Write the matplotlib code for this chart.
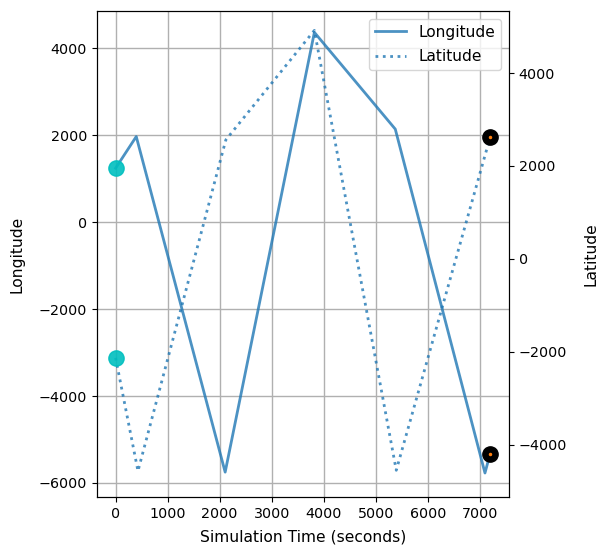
import matplotlib
matplotlib.use("Agg")
import matplotlib.pyplot as plt

# Data
lon_time = [0, 397, 2106, 3821, 5376, 7100, 7200]
lon_vals = [1244, 1972, -5750, 4369, 2143, -5770, -5323]
lat_time = [0, 430, 2119, 3821, 5395, 7200]
lat_vals = [-2132, -4569, 2561, 4918, -4553, 2620]

fig = plt.figure(figsize=(5.98, 5.48), dpi=100)
ax1 = fig.add_axes([0.162, 0.093, 0.689, 0.887])
ax2 = ax1.twinx()

l1, = ax1.plot(lon_time, lon_vals, color='C0', alpha=0.8, linewidth=2, label='Longitude')
l2, = ax2.plot(lat_time, lat_vals, color='C0', alpha=0.8, linewidth=2, linestyle=':', label='Latitude')

ax1.plot(lon_time[0], lon_vals[0], 'o', color='c', markersize=11, alpha=0.9)
ax2.plot(lat_time[0], lat_vals[0], 'o', color='c', markersize=11, alpha=0.9)
ax1.plot(lon_time[-1], lon_vals[-1], 'o', color='k', markersize=11)
ax2.plot(lat_time[-1], lat_vals[-1], 'o', color='k', markersize=11)
ax1.plot(lon_time[-1], lon_vals[-1], '.', color='C1', markersize=3)
ax2.plot(lat_time[-1], lat_vals[-1], '.', color='C1', markersize=3)

ax1.set_xlim(-360, 7560)
ax1.set_ylim(-6323, 4862)
ax2.set_ylim(-5129, 5336)
ax1.set_xticks([0, 1000, 2000, 3000, 4000, 5000, 6000, 7000])
ax1.set_yticks([-6000, -4000, -2000, 0, 2000, 4000])
ax2.set_yticks([-4000, -2000, 0, 2000, 4000])
ax1.tick_params(labelsize=10.3)
ax2.tick_params(labelsize=10.3)
ax1.grid(True, color='#b0b0b0', linewidth=1)

ax1.set_xlabel('Simulation Time (seconds)', fontsize=11.2, labelpad=6)
ax1.set_ylabel('Longitude', fontsize=11.2, labelpad=10)
ax2.set_ylabel('Latitude', fontsize=11.2, labelpad=12)

ax2.legend([l1, l2], ['Longitude', 'Latitude'], loc='upper right', fontsize=11.1,
           labelspacing=0.6)

fig.savefig('out.png', dpi=100)
